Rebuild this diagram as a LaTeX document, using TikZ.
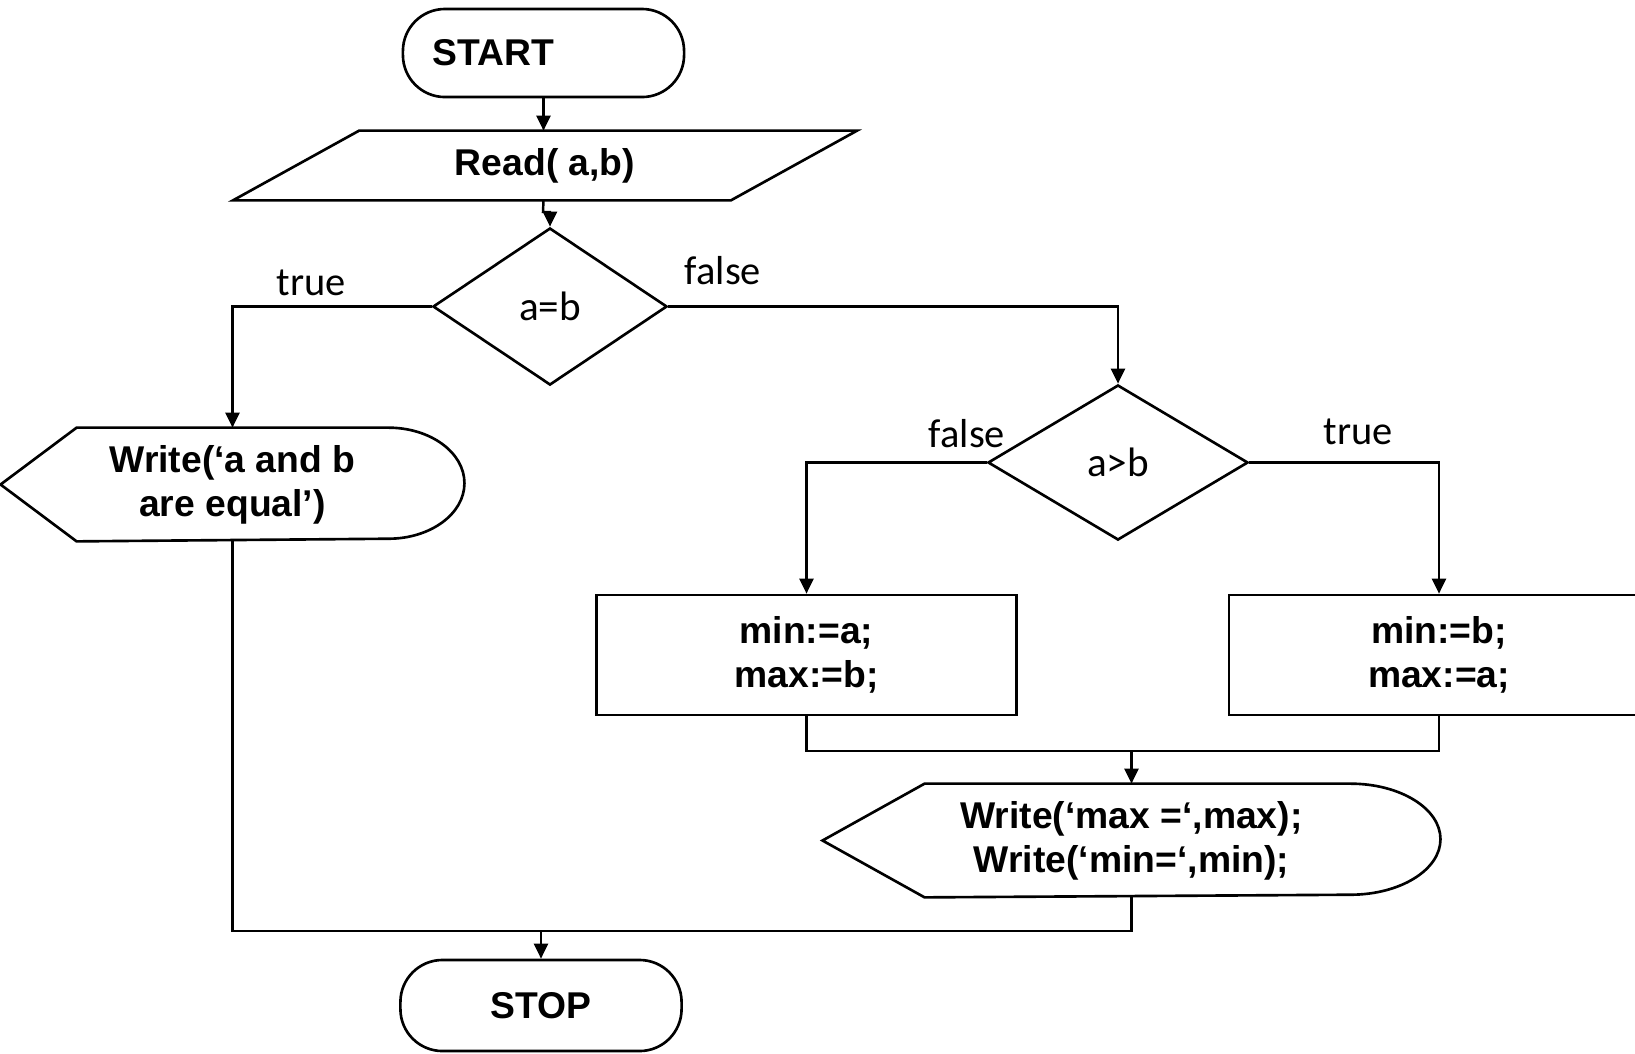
\documentclass[tikz,border=0pt]{standalone}
\usepackage{fontspec}
\setmainfont{Liberation Sans}
\newfontfamily\lblfont{Carlito}
\usetikzlibrary{shapes.geometric, arrows.meta, positioning}
\tikzstyle{base}  = [draw=black, line width=0.75pt, align=center, inner sep=0pt,
                     font=\fontsize{10.6}{12.6}\selectfont\bfseries]
\tikzstyle{term}  = [base, rounded corners=0.42cm, minimum width=2.81cm, minimum height=0.88cm]
\tikzstyle{io}    = [base, draw=none, minimum width=4.95cm, minimum height=0.67cm]
\tikzstyle{cond}  = [base, diamond, aspect=1.5, font=\lblfont\fontsize{11.7}{13}\selectfont]
\tikzstyle{proc}  = [base, rectangle, minimum width=4.2cm, minimum height=1.2cm]
\tikzstyle{disp}  = [base, draw=none, minimum height=1.11cm]
\tikzstyle{lbl}   = [inner sep=0pt, font=\lblfont\fontsize{11.5}{13}\selectfont]
\tikzstyle{line}  = [line width=0.7pt]
\tikzstyle{arrow} = [line, -{Triangle[length=4.3pt, width=4pt]}]
% outline of a display box: point on the left, round on the right
\newcommand{\dispoutline}[3]{%
  \draw[line width=0.75pt] (#1.west) -- ([xshift=#2]#1.north west)
    -- ([xshift=-#3]#1.north east)
    arc[start angle=90, end angle=-90, x radius=#3, y radius=0.555cm]
    -- ([xshift=#2]#1.south west) -- cycle;}

\begin{document}
\begin{tikzpicture}[x=0.01cm, y=0.01cm]
  \useasboundingbox (0,0) rectangle (1635,-1053);

  \node[term] (start) at (543.5,-53) {START\hspace{1cm}};
  \node[io]   (read)  at (545,-165.5) {Read( a,b)};
  \node[cond, minimum width=2.34cm, minimum height=1.57cm] (eq) at (550,-306.5) {a=b};
  \node[disp, minimum width=4.61cm] (weq) at (232.5,-484.5) {Write(‘a and b\\are equal’)};
  \node[cond, minimum width=2.6cm, minimum height=1.55cm] (gt) at (1118,-462.5) {a>b};
  \node[proc] (ab)    at (806.5,-655) {min:=a;\\max:=b;};
  \node[proc] (ba)    at (1439,-655) {min:=b;\\max:=a;};
  \node[disp, minimum width=6.15cm] (wmm) at (1131.5,-840.5) {Write(‘max =‘,max);\\Write(‘min=‘,min);};
  \node[term, minimum height=0.91cm] (stop) at (541,-1005.5) {STOP};

  % shapes drawn round the text nodes
  \draw[line width=0.75pt] ([xshift=0.63cm]read.north west) -- ([xshift=0.63cm]read.north east)
    -- ([xshift=-0.63cm]read.south east) -- ([xshift=-0.63cm]read.south west) -- cycle;
  \dispoutline{weq}{0.76cm}{0.76cm}
  \dispoutline{wmm}{1.02cm}{0.9cm}

  % branch labels
  \node[lbl] (t1) at (311,-283)  {true};
  \node[lbl] (f1) at (723,-271)  {false};
  \node[lbl] (f2) at (967,-434)  {false};
  \node[lbl] (t2) at (1358,-432) {true};

  \coordinate (jog)   at (543,-212);
  \coordinate (join1) at (1131.5,-751);
  \coordinate (join2) at (541,-931);

  \draw[arrow] (start.south) -- (start.south |- read.north);
  \draw[arrow] (start.south |- read.south) -- (jog) -| (eq.north);
  \draw[arrow] (eq.west) -| (weq.north);
  \draw[arrow] (eq.east) -| (gt.north);
  \draw[arrow] (gt.west) -| (ab.north);
  \draw[arrow] (gt.east) -| (ba.north);
  \draw[line]  (ab.south) |- (join1) -| (ba.south);
  \draw[arrow] (join1) -- (wmm.north);
  \draw[line]  (weq.south) |- (join2) -| (wmm.south);
  \draw[arrow] (join2) -- (stop.north);
\end{tikzpicture}
\end{document}
